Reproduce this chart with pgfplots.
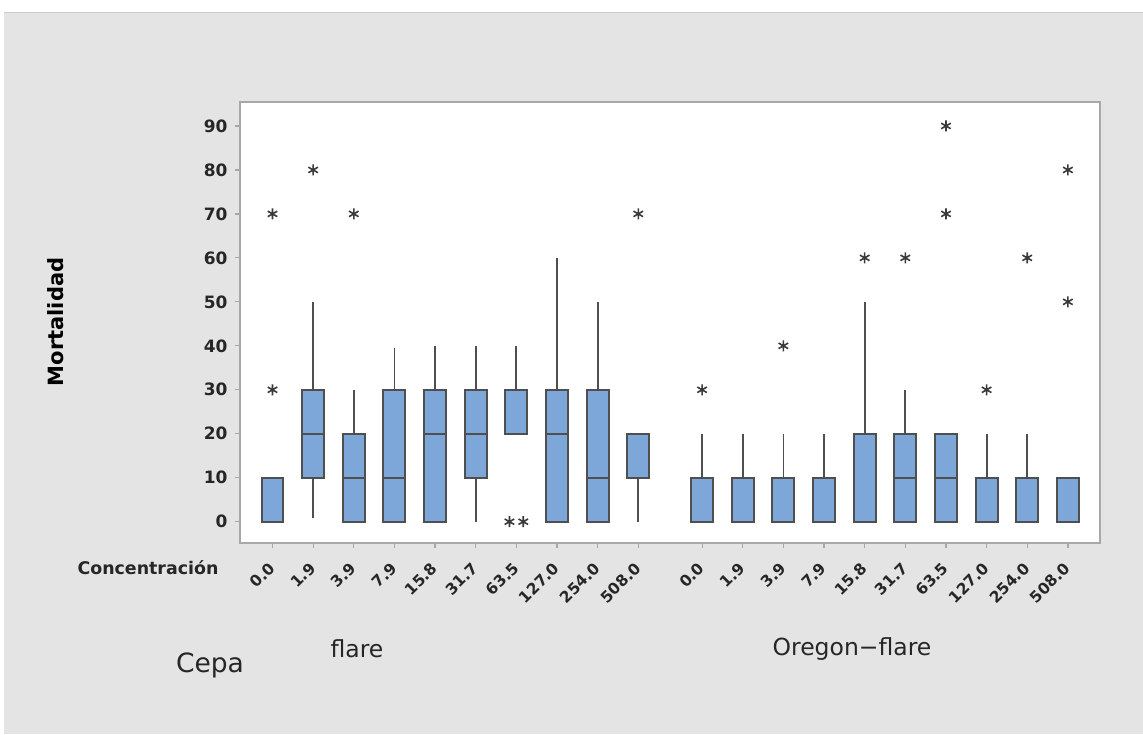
\documentclass[border=0pt]{standalone}
\usepackage{fontspec}
\setmainfont{DejaVu Sans}
\usepackage{pgfplots}
\pgfplotsset{compat=1.18}
\usepgfplotslibrary{statistics}
\definecolor{bg}{HTML}{E4E4E4}
\definecolor{boxfill}{HTML}{7DA7D8}
\definecolor{boxedge}{HTML}{4F4F4F}
\definecolor{axgray}{HTML}{A8A8A8}
\definecolor{star}{HTML}{3A3A3A}
\pgfplotsset{
  bx/.style={solid, draw=boxedge, line width=2pt,
    boxplot/draw direction=y,
    boxplot/box extend=0.54, boxplot/whisker extend=0,
    boxplot/every box/.style={fill=boxfill, draw=boxedge, line width=2pt},
    boxplot/every whisker/.style={draw=boxedge, line width=1.8pt},
    boxplot/every median/.style={draw=boxedge, line width=2pt}}
}
\begin{document}
\begin{tikzpicture}
\useasboundingbox (0pt,0pt) rectangle (1143pt,734pt);
\fill[white] (0pt,0pt) rectangle (1143pt,734pt);
\fill[bg] (4pt,0pt) rectangle (1143pt,721pt);
\draw[black!20, line width=1pt] (4pt,721pt) -- (1143pt,721pt);
\begin{axis}[
  at={(240pt,191pt)}, anchor=south west,
  scale only axis, width=860pt, height=441pt,
  xmin=-0.8, xmax=20.36, ymin=-4.84, ymax=95.45,
  axis background/.style={fill=white},
  axis line style={draw=axgray, line width=1.5pt},
  tick align=outside, tick pos=left, major tick length=5pt,
  tick style={draw=axgray, line width=1.2pt},
  ytick={0,10,20,30,40,50,60,70,80,90},
  /pgf/number format/assume math mode=true,
  yticklabel style={font=\bfseries\fontsize{17}{20}\selectfont, text=black!85, xshift=-4pt},
  xtick={0,1,2,3,4,5,6,7,8,9,10.57,11.57,12.57,13.57,14.57,15.57,16.57,17.57,18.57,19.57},
  xticklabels={0.0,1.9,3.9,7.9,15.8,31.7,63.5,127.0,254.0,508.0,0.0,1.9,3.9,7.9,15.8,31.7,63.5,127.0,254.0,508.0},
  xticklabel style={xshift=2pt, yshift=-15pt, rotate=45, anchor=east, font=\bfseries\fontsize{15.5}{18}\selectfont, text=black!85},
  clip=false,
]
% flare
\addplot[bx, boxplot prepared={draw position=0, lower whisker=0, lower quartile=0, median=0, upper quartile=10, upper whisker=10}] coordinates {};
\addplot[bx, boxplot prepared={draw position=1, lower whisker=0.8, lower quartile=10, median=20, upper quartile=30, upper whisker=50}] coordinates {};
\addplot[bx, boxplot prepared={draw position=2, lower whisker=0, lower quartile=0, median=10, upper quartile=20, upper whisker=30}] coordinates {};
\addplot[bx, boxplot prepared={draw position=3, lower whisker=0, lower quartile=0, median=10, upper quartile=30, upper whisker=39.5}] coordinates {};
\addplot[bx, boxplot prepared={draw position=4, lower whisker=0, lower quartile=0, median=20, upper quartile=30, upper whisker=40}] coordinates {};
\addplot[bx, boxplot prepared={draw position=5, lower whisker=0, lower quartile=10, median=20, upper quartile=30, upper whisker=40}] coordinates {};
\addplot[bx, boxplot prepared={draw position=6, lower whisker=20, lower quartile=20, median=20, upper quartile=30, upper whisker=40}] coordinates {};
\addplot[bx, boxplot prepared={draw position=7, lower whisker=0, lower quartile=0, median=20, upper quartile=30, upper whisker=60}] coordinates {};
\addplot[bx, boxplot prepared={draw position=8, lower whisker=0, lower quartile=0, median=10, upper quartile=30, upper whisker=50}] coordinates {};
\addplot[bx, boxplot prepared={draw position=9, lower whisker=0, lower quartile=10, median=10, upper quartile=20, upper whisker=20}] coordinates {};
% Oregon-flare
\addplot[bx, boxplot prepared={draw position=10.57, lower whisker=0, lower quartile=0, median=0, upper quartile=10, upper whisker=20}] coordinates {};
\addplot[bx, boxplot prepared={draw position=11.57, lower whisker=0, lower quartile=0, median=0, upper quartile=10, upper whisker=20}] coordinates {};
\addplot[bx, boxplot prepared={draw position=12.57, lower whisker=0, lower quartile=0, median=0, upper quartile=10, upper whisker=20}] coordinates {};
\addplot[bx, boxplot prepared={draw position=13.57, lower whisker=0, lower quartile=0, median=0, upper quartile=10, upper whisker=20}] coordinates {};
\addplot[bx, boxplot prepared={draw position=14.57, lower whisker=0, lower quartile=0, median=0, upper quartile=20, upper whisker=50}] coordinates {};
\addplot[bx, boxplot prepared={draw position=15.57, lower whisker=0, lower quartile=0, median=10, upper quartile=20, upper whisker=30}] coordinates {};
\addplot[bx, boxplot prepared={draw position=16.57, lower whisker=0, lower quartile=0, median=10, upper quartile=20, upper whisker=20}] coordinates {};
\addplot[bx, boxplot prepared={draw position=17.57, lower whisker=0, lower quartile=0, median=0, upper quartile=10, upper whisker=20}] coordinates {};
\addplot[bx, boxplot prepared={draw position=18.57, lower whisker=0, lower quartile=0, median=0, upper quartile=10, upper whisker=20}] coordinates {};
\addplot[bx, boxplot prepared={draw position=19.57, lower whisker=0, lower quartile=0, median=0, upper quartile=10, upper whisker=10}] coordinates {};
% outliers
\addplot[only marks, mark=asterisk, mark size=5.5pt, mark options={draw=star, line width=1.6pt}] coordinates {
 (0,70) (0,30) (1,80) (2,70) (5.83,0) (6.17,0) (9,70)
 (10.57,30) (12.57,40) (14.57,60) (15.57,60) (16.57,70) (16.57,90)
 (17.57,30) (18.57,60) (19.57,50) (19.57,80)};
\end{axis}
\node[font=\bfseries\fontsize{17.4}{20}\selectfont, text=black!85] at (148pt,166pt) {Concentración};
\node[font=\fontsize{23.5}{28}\selectfont, text=black!85] at (357pt,85pt) {flare};
\node[font=\fontsize{23.5}{28}\selectfont, text=black!85] at (852pt,85pt) {Oregon−flare};
\node[font=\fontsize{26.5}{30}\selectfont, text=black!85] at (210pt,69pt) {Cepa};
\node[font=\bfseries\fontsize{21}{24}\selectfont, rotate=90] at (56pt,412pt) {Mortalidad};
\end{tikzpicture}
\end{document}
